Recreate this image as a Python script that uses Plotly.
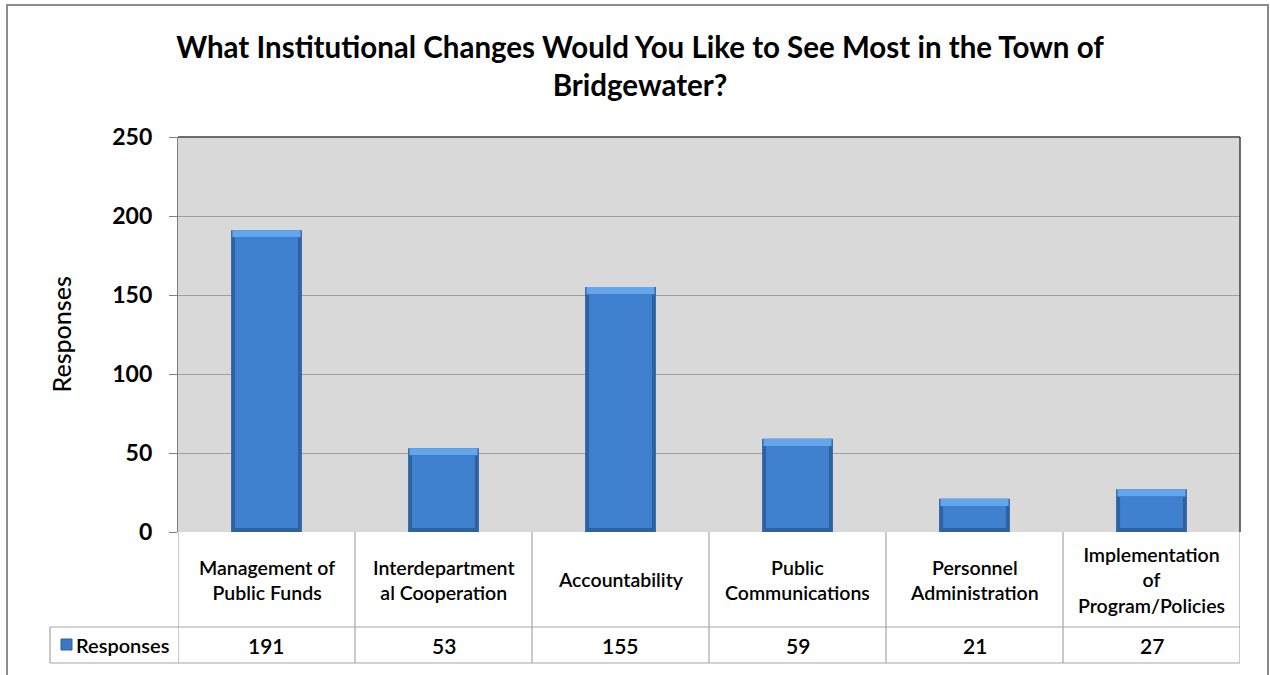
import plotly.graph_objects as go

# Survey results
categories = [
    "Management of<br>Public Funds",
    "Interdepartment<br>al Cooperation",
    "Accountability",
    "Public<br>Communications",
    "Personnel<br>Administration",
    "Implementation<br>of<br>Program/Policies",
]
responses = [191, 53, 155, 59, 21, 27]
y_ticks = [0, 50, 100, 150, 200, 250]
series_name = "Responses"
chart_title = "What Institutional Changes Would You Like to See Most in the Town of<br>Bridgewater?"

W, H = 1270, 675
FONT = "Lato"

# plot area and data-table geometry in pixels
PX0, PX1 = 178, 1240
PY_TOP, PY_BOT = 137, 532
TABLE_MID, TABLE_ROW2, TABLE_BOT = 627, 645, 663
LEGEND_X0 = 50

# bevel sizes for the bars, in data units
TOP_BEVEL = 4.5
BOTTOM_BEVEL = 2.5


def xp(px):
    return px / W


def yp(py):
    return 1 - py / H


xs = list(range(len(categories)))

fig = go.Figure()

# darker rim of each bar
fig.add_trace(go.Bar(
    x=xs, y=responses, width=0.4, name=series_name,
    marker=dict(color="#2D62A3", line=dict(width=0)),
    hoverinfo="y", showlegend=False,
))
# light bevel along the top edge
fig.add_trace(go.Bar(
    x=xs, y=[TOP_BEVEL] * len(xs), base=[v - TOP_BEVEL for v in responses],
    width=0.385,
    marker=dict(color="#64A6EC", line=dict(width=0)),
    hoverinfo="skip", showlegend=False,
))
# main face
fig.add_trace(go.Bar(
    x=xs, y=[v - TOP_BEVEL - BOTTOM_BEVEL for v in responses],
    base=[BOTTOM_BEVEL] * len(xs), width=0.355,
    marker=dict(color="#4081CF", line=dict(width=0)),
    hoverinfo="skip", showlegend=False,
))

shapes = []
line_col = "#A6A6A6"

# table horizontal rules
for py in (TABLE_MID, TABLE_BOT):
    shapes.append(dict(type="line", xref="paper", yref="paper",
                       x0=xp(LEGEND_X0), x1=xp(PX1), y0=yp(py), y1=yp(py),
                       line=dict(color=line_col, width=1.2)))
# table vertical rules on category boundaries
for k in range(len(categories) + 1):
    shapes.append(dict(type="line", xref="x", yref="paper",
                       x0=k - 0.5, x1=k - 0.5, y0=yp(PY_BOT), y1=yp(TABLE_BOT),
                       line=dict(color=line_col, width=1.2)))
shapes.append(dict(type="line", xref="paper", yref="paper",
                   x0=xp(LEGEND_X0), x1=xp(LEGEND_X0), y0=yp(TABLE_MID), y1=yp(TABLE_BOT),
                   line=dict(color=line_col, width=1.2)))
# plot area frame (top and right)
shapes.append(dict(type="line", xref="paper", yref="paper",
                   x0=xp(PX0), x1=xp(PX1), y0=yp(PY_TOP), y1=yp(PY_TOP),
                   line=dict(color="#404040", width=1.5)))
shapes.append(dict(type="line", xref="paper", yref="paper",
                   x0=xp(PX1), x1=xp(PX1), y0=yp(PY_TOP), y1=yp(PY_BOT),
                   line=dict(color="#404040", width=1.5)))
# legend key square
shapes.append(dict(type="rect", xref="paper", yref="paper",
                   x0=xp(61), x1=xp(72), y0=yp(650), y1=yp(639),
                   fillcolor="#3A78C4", line=dict(color="#2C5E9E", width=1)))
# outer chart border
shapes.append(dict(type="rect", xref="paper", yref="paper",
                   x0=xp(7), x1=xp(1268), y0=yp(700), y1=yp(5),
                   line=dict(color="#8C8C8C", width=2), fillcolor="rgba(0,0,0,0)"))

label_font = dict(family=FONT, size=19.5, color="#000000", weight=600)
annotations = []
for i, (cat, val) in enumerate(zip(categories, responses)):
    annotations.append(dict(x=i, xref="x", y=yp((PY_BOT + TABLE_MID) / 2), yref="paper",
                            text=cat, showarrow=False, yanchor="middle", font=label_font))
    annotations.append(dict(x=i, xref="x", y=yp(TABLE_ROW2), yref="paper",
                            text=str(val), showarrow=False, yanchor="middle",
                            font=dict(label_font, size=21)))
annotations.append(dict(x=xp(74), xref="paper", y=yp(TABLE_ROW2), yref="paper",
                        text=series_name, showarrow=False, xanchor="left", yanchor="middle",
                        font=dict(label_font, size=20)))
# y-axis title
annotations.append(dict(x=xp(60), xref="paper", y=yp((PY_TOP + PY_BOT) / 2), yref="paper",
                        text=series_name, showarrow=False, textangle=-90,
                        xanchor="center", yanchor="middle",
                        font=dict(family=FONT, size=25, color="#000000", weight=500)))

fig.update_layout(
    width=W, height=H,
    margin=dict(l=0, r=0, t=0, b=0),
    paper_bgcolor="#FFFFFF",
    plot_bgcolor="#D9D9D9",
    barmode="overlay",
    title=dict(
        text=chart_title,
        x=xp(640), xanchor="center", y=yp(58), yanchor="middle",
        font=dict(family=FONT, size=29.5, color="#000000", weight="bold"),
    ),
    xaxis=dict(
        domain=[xp(PX0), xp(PX1)], range=[-0.5, len(categories) - 0.5],
        showticklabels=False, showgrid=False, zeroline=False, showline=False,
        automargin=False, fixedrange=True,
    ),
    yaxis=dict(
        domain=[yp(PY_BOT), yp(PY_TOP)], range=[0, 250],
        tickvals=y_ticks, ticks="outside", ticklen=8, tickcolor="#808080",
        ticklabelstandoff=12,
        tickfont=dict(family=FONT, size=23, color="#000000", weight="bold"),
        showgrid=True, gridcolor="#A0A0A0", gridwidth=1.2,
        zeroline=False, showline=True, linecolor="#808080", linewidth=1.2,
        automargin=False, fixedrange=True,
    ),
    shapes=shapes,
    annotations=annotations,
    showlegend=False,
)

fig.write_html("out.html")
